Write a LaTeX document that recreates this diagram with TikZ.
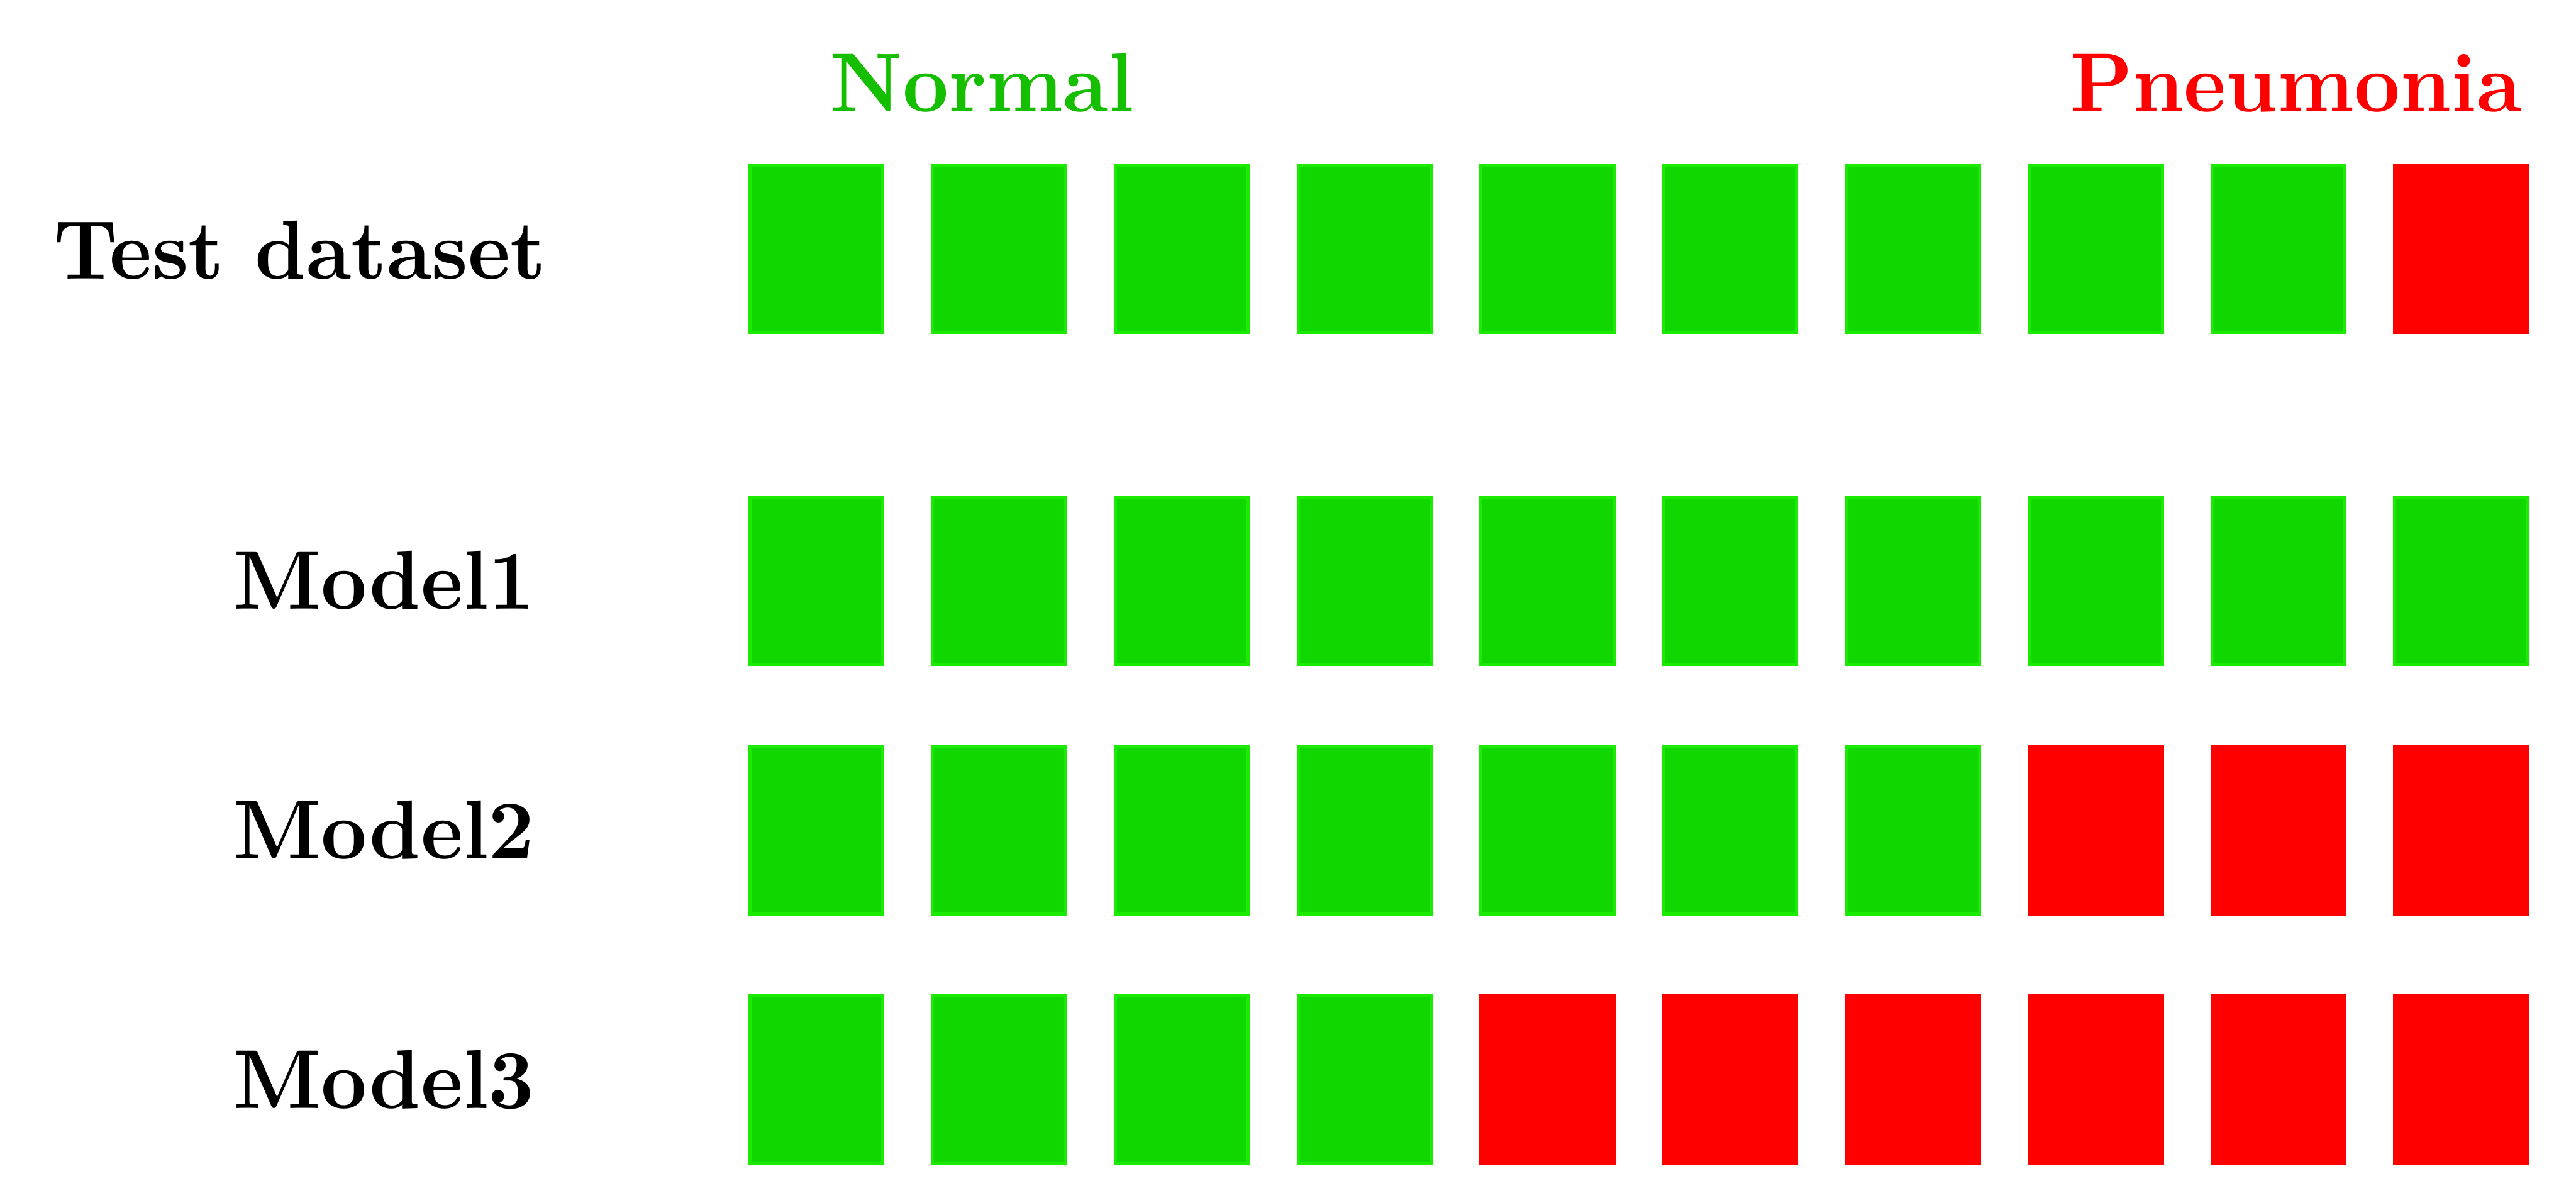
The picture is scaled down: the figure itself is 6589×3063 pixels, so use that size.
\documentclass[tikz,border=0pt]{standalone}
\usepackage{tikz}
\definecolor{boxgreen}{RGB}{16,215,0}
\definecolor{edgegreen}{RGB}{26,235,0}
\definecolor{textgreen}{RGB}{22,190,0}
\definecolor{boxred}{RGB}{254,0,0}
\newcommand{\narrow}[1]{\scalebox{0.958}[1]{#1}}
\begin{document}
\begin{tikzpicture}[x=0.05pt,y=-0.05pt,
  gbox/.style={rectangle,fill=boxgreen,draw=edgegreen,line width=0.4pt,minimum width=17pt,minimum height=21.4pt,inner sep=0pt},
  rbox/.style={rectangle,fill=boxred,minimum width=17.4pt,minimum height=21.8pt,inner sep=0pt},
  lab/.style={inner sep=0pt,anchor=base west,font=\fontsize{10.7}{12}\selectfont\bfseries}]
\useasboundingbox[fill=white] (0,0) rectangle (6589,3063);
% headers
\node[lab,text=textgreen] (normal) at (2120,285) {\narrow{Normal}};
\node[lab,text=boxred] (pneu) at (5290,285) {\narrow{Pneumonia}};
% row labels
\node[lab] (ltest) at (133,713) {\narrow{Test dataset}};
\node[lab] (lm1) at (593,1558) {\narrow{Model1}};
\node[lab] (lm2) at (593,2197) {\narrow{Model2}};
\node[lab] (lm3) at (593,2835) {\narrow{Model3}};
% test dataset
\foreach \i in {1,...,10}{
  \pgfmathsetmacro{\xx}{2088+467.5*(\i-1)}
  \ifnum\i<10 \node[gbox] (t\i) at (\xx,636) {};
  \else \node[rbox] (t\i) at (\xx,636) {}; \fi
}
% model 1
\foreach \i in {1,...,10}{
  \pgfmathsetmacro{\xx}{2088+467.5*(\i-1)}
  \node[gbox] (a\i) at (\xx,1485) {};
}
% model 2
\foreach \i in {1,...,10}{
  \pgfmathsetmacro{\xx}{2088+467.5*(\i-1)}
  \ifnum\i<8 \node[gbox] (b\i) at (\xx,2123.5) {};
  \else \node[rbox] (b\i) at (\xx,2123.5) {}; \fi
}
% model 3
\foreach \i in {1,...,10}{
  \pgfmathsetmacro{\xx}{2088+467.5*(\i-1)}
  \ifnum\i<5 \node[gbox] (c\i) at (\xx,2761) {};
  \else \node[rbox] (c\i) at (\xx,2761) {}; \fi
}
\end{tikzpicture}
\end{document}
